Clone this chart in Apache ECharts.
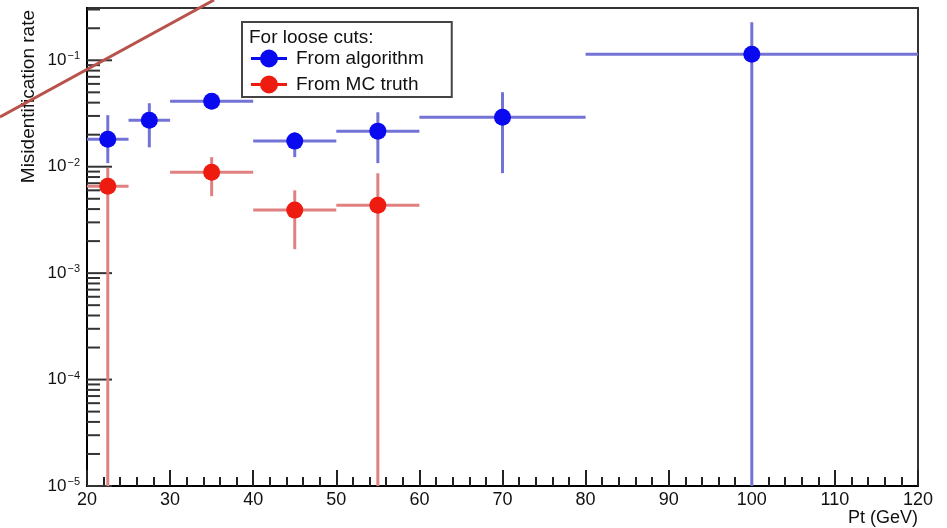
<!DOCTYPE html>
<html>
<head>
<meta charset="utf-8">
<script src="https://cdn.jsdelivr.net/npm/echarts@6/dist/echarts.min.js"></script>
<style>
  html, body { margin: 0; padding: 0; background: #fff; }
  #main { width: 947px; height: 528px; }
</style>
</head>
<body>
<div id="main"></div>
<script>
// bins in Pt (GeV)
var algoX = [22.5, 27.5, 35, 45, 55, 70, 100];
var algoXLow = [20, 25, 30, 40, 50, 60, 80];
var algoXHigh = [25, 30, 40, 50, 60, 80, 120];
// misidentification rate, from algorithm
var algoRate = [0.0181, 0.0273, 0.0412, 0.0174, 0.0216, 0.0292, 0.1138];
var algoHigh = [0.0305, 0.0395, 0.048, 0.0211, 0.0325, 0.0501, 0.2274];
var algoLow = [0.0108, 0.0152, 0.0347, 0.0123, 0.0108, 0.0087, 0];

// from MC truth
var mcX = [22.5, 35, 45, 55];
var mcXLow = [20, 30, 40, 50];
var mcXHigh = [25, 40, 50, 60];
var mcRate = [0.00656, 0.00888, 0.00391, 0.00435];
var mcHigh = [0.0098, 0.0123, 0.0060, 0.0087];
var mcLow = [0, 0.00529, 0.00168, 0];

var xMin = 20, xMax = 120;
var yMin = 1e-5, yMax = 0.31;

// log axis ticks: 1..9 x 10^n
var yTickValues = [];
for (var n = -5; n <= -1; n++) {
  for (var k = 1; k <= 9; k++) {
    var v = k * Math.pow(10, n);
    if (v <= yMax) yTickValues.push(v);
  }
}

var blueMarker = '#0a0af0';
var blueBar = '#7373d6';
var redMarker = '#ee1c10';
var redBar = '#e08080';

function rows(x, xl, xh, y, yl, yh) {
  var out = [];
  for (var i = 0; i < x.length; i++) out.push([x[i], y[i], xl[i], xh[i], yl[i], yh[i]]);
  return out;
}

function errorBars(color) {
  return function (params, api) {
    var x = api.value(0), y = api.value(1);
    var l = api.coord([api.value(2), y]);
    var r = api.coord([api.value(3), y]);
    var t = api.coord([x, api.value(5)]);
    var b = api.coord([x, Math.max(api.value(4), yMin)]);
    var st = { stroke: color, lineWidth: 3 };
    return {
      type: 'group',
      children: [
        { type: 'line', shape: { x1: l[0], y1: l[1], x2: r[0], y2: r[1] }, style: st },
        { type: 'line', shape: { x1: t[0], y1: t[1], x2: b[0], y2: b[1] }, style: st }
      ]
    };
  };
}

var sup = { fontSize: 11, verticalAlign: 'top', padding: [0, 0, 8, 1], color: '#111' };

var chart = echarts.init(document.getElementById('main'));
chart.setOption({
  animation: false,
  textStyle: { fontFamily: 'Liberation Sans, Arial, sans-serif' },
  title: {
    text: 'For loose cuts:',
    left: 244, top: 23,
    textStyle: { fontSize: 19, fontWeight: 'normal', color: '#111' }
  },
  legend: {
    data: ['From algorithm', 'From MC truth'],
    orient: 'vertical',
    left: 242, top: 22,
    padding: [27, 28, 3, 9],
    itemGap: 7,
    itemWidth: 36, itemHeight: 18,
    icon: 'path://M0,7.5 L36,7.5 L36,10.5 L0,10.5 Z M18,0 A9,9 0 1 1 18,18 A9,9 0 1 1 18,0 Z',
    borderColor: '#444', borderWidth: 2,
    backgroundColor: '#fff',
    textStyle: { fontSize: 19, color: '#111', padding: [0, 0, 0, 4] }
  },
  grid: {
    left: 87, right: 29, top: 8, bottom: 42,
    containLabel: false, outerBoundsMode: 'none',
    show: true, borderColor: '#333', borderWidth: 2, backgroundColor: '#fff'
  },
  xAxis: {
    type: 'value', min: xMin, max: xMax, interval: 10,
    name: 'Pt (GeV)', nameLocation: 'end', nameGap: -70,
    nameTextStyle: { fontSize: 18, color: '#111', verticalAlign: 'top', padding: [23, 0, 0, 0] },
    axisLine: { lineStyle: { color: '#000', width: 2 } },
    axisTick: { inside: true, length: 16, lineStyle: { color: '#222', width: 2 } },
    minorTick: { show: true, splitNumber: 5, length: 9, lineStyle: { color: '#222', width: 2 } },
    splitLine: { show: false },
    axisLabel: { fontSize: 18, color: '#111', margin: 5 }
  },
  yAxis: {
    type: 'log', logBase: 10, min: yMin, max: yMax,
    name: 'Misidentification rate', nameLocation: 'end', nameRotate: 90, nameGap: -2,
    nameTextStyle: { fontSize: 19, color: '#111', align: 'right', verticalAlign: 'bottom', padding: [0, 0, 49, 0] },
    axisLine: { lineStyle: { color: '#000', width: 2 } },
    axisTick: { show: false },
    splitLine: { show: false },
    axisLabel: {
      fontSize: 17, color: '#111', margin: 7, showMaxLabel: false,
      formatter: function (v) {
        var e = Math.round(Math.log(v) / Math.LN10);
        return '10{s|' + String(e).replace('-', '\u2212') + '}';
      },
      rich: { s: sup }
    }
  },
  graphic: [{
    type: 'line', z: 100,
    shape: { x1: 0, y1: 117, x2: 214, y2: 0 },
    style: { stroke: '#b9524b', lineWidth: 3 }
  }],
  series: [
    {
      type: 'custom', name: 'yTicks', silent: true, clip: false, z: 3,
      data: yTickValues.map(function (v) { return [xMin, v]; }),
      encode: { x: 0, y: 1 },
      renderItem: function (params, api) {
        var v = api.value(1);
        var p = api.coord([xMin, v]);
        var m = v / Math.pow(10, Math.floor(Math.log(v) / Math.LN10 + 1e-9));
        var len = Math.abs(m - 1) < 1e-6 ? 25 : 13;
        return { type: 'line', shape: { x1: p[0], y1: p[1], x2: p[0] + len, y2: p[1] }, style: { stroke: '#333', lineWidth: 2 } };
      }
    },
    {
      type: 'custom', name: 'algoErr', silent: true, clip: true, z: 4,
      data: rows(algoX, algoXLow, algoXHigh, algoRate, algoLow, algoHigh),
      encode: { x: 0, y: 1 },
      renderItem: errorBars(blueBar)
    },
    {
      type: 'custom', name: 'mcErr', silent: true, clip: true, z: 4,
      data: rows(mcX, mcXLow, mcXHigh, mcRate, mcLow, mcHigh),
      encode: { x: 0, y: 1 },
      renderItem: errorBars(redBar)
    },
    {
      type: 'scatter', name: 'From algorithm', z: 5,
      symbol: 'circle', symbolSize: 17,
      itemStyle: { color: blueMarker, opacity: 1 },
      data: algoX.map(function (x, i) { return [x, algoRate[i]]; })
    },
    {
      type: 'scatter', name: 'From MC truth', z: 5,
      symbol: 'circle', symbolSize: 17,
      itemStyle: { color: redMarker, opacity: 1 },
      data: mcX.map(function (x, i) { return [x, mcRate[i]]; })
    }
  ]
});
</script>
</body>
</html>
